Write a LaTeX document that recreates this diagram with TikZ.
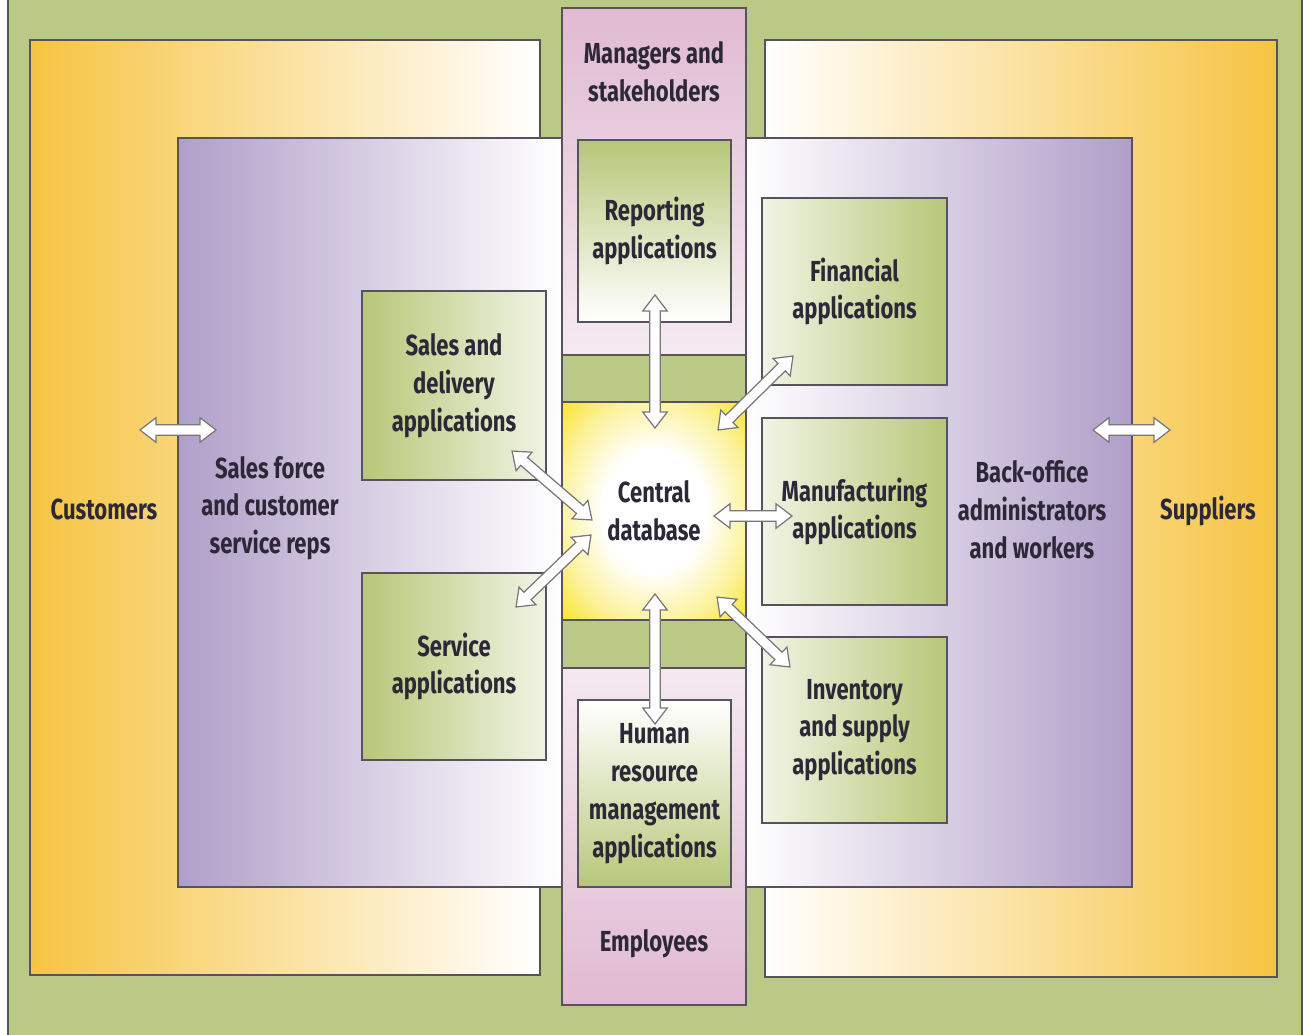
\documentclass[tikz,border=0pt]{standalone}
\usepackage{fontspec}
\setmainfont{Fira Sans}[FakeStretch=0.76]
\usepackage{tikz}
\usetikzlibrary{shapes.arrows, calc}
\definecolor{bggreen}{RGB}{187,201,135}
\definecolor{appgreen}{RGB}{183,199,120}
\definecolor{custorange}{RGB}{246,196,66}
\definecolor{staffpurple}{RGB}{176,158,200}
\definecolor{mgrpink}{RGB}{224,186,210}
\definecolor{dbyellow}{RGB}{248,226,30}
\definecolor{edgegray}{RGB}{88,82,92}
\definecolor{inkdark}{RGB}{45,40,55}
\pgfdeclareradialshading{dbglow}{\pgfpoint{0bp}{0bp}}{color(0bp)=(white); color(14bp)=(white); color(26bp)=(dbyellow!45!white); color(37bp)=(dbyellow); color(50bp)=(dbyellow)}
\newcommand{\diafont}{\fontsize{16.5}{21.5}\selectfont\bfseries}
\tikzstyle{panel} = [rectangle, draw=edgegray, line width=0.8pt, inner sep=0pt]
\tikzstyle{appbox} = [panel, text=inkdark, align=center, font=\diafont]
\tikzstyle{grouptext} = [text=inkdark, align=center, font=\diafont]
\tikzstyle{dblink} = [double arrow, draw=edgegray!80, fill=white, line width=0.7pt, inner xsep=0pt, inner ysep=2.6pt, minimum width=13.5pt, double arrow head extend=4pt, double arrow tip angle=75]

\begin{document}
\begin{tikzpicture}[x=0.02cm, y=-0.02cm]
\useasboundingbox (0,0) rectangle (1307,1034);
\node (bg) [panel, fill=bggreen, minimum width=25.88cm, minimum height=21cm] at (655,517) {};
\node (custbox) [panel, left color=custorange, right color=white, minimum width=10.2cm, minimum height=18.7cm] at (285,507.5) {};
\node (suppbox) [panel, left color=white, right color=custorange, minimum width=10.24cm, minimum height=18.74cm] at (1021,508.5) {};
\node (salesstaff) [panel, left color=staffpurple, right color=white, minimum width=7.68cm, minimum height=14.98cm] at (370,512.5) {};
\node (officestaff) [panel, left color=white, right color=staffpurple, minimum width=7.72cm, minimum height=14.98cm] at (939,512.5) {};
\node (mgrcol) [panel, top color=mgrpink, bottom color=mgrpink, middle color=white, minimum width=3.68cm, minimum height=19.94cm] at (654,506.5) {};
\node (bandtop) [panel, fill=bggreen, minimum width=3.68cm, minimum height=0.94cm] at (654,378.5) {};
\node (bandbot) [panel, fill=bggreen, minimum width=3.68cm, minimum height=0.96cm] at (654,644) {};
\node (db) [appbox, shading=dbglow, minimum width=3.68cm, minimum height=4.36cm] at (654,511) {Central\\database};

\node (reporting) [appbox, top color=appgreen, bottom color=white, minimum width=3.06cm, minimum height=3.64cm] at (654.5,231) {Reporting\\applications};
\node (hr) [appbox, top color=white, bottom color=appgreen, minimum width=3.06cm, minimum height=3.74cm] at (654.5,793.5) {Human\\resource\\management\\applications};
\node (sales) [appbox, left color=appgreen, right color=appgreen!20!white, minimum width=3.68cm, minimum height=3.78cm] at (454,385.5) {Sales and\\delivery\\applications};
\node (service) [appbox, left color=appgreen, right color=appgreen!20!white, minimum width=3.68cm, minimum height=3.74cm] at (454,666.5) {Service\\applications};
\node (financial) [appbox, left color=appgreen!20!white, right color=appgreen, minimum width=3.7cm, minimum height=3.74cm] at (854.5,291.5) {Financial\\applications};
\node (manufacturing) [appbox, left color=appgreen!20!white, right color=appgreen, minimum width=3.7cm, minimum height=3.74cm] at (854.5,511.5) {Manufacturing\\applications};
\node (inventory) [appbox, left color=appgreen!20!white, right color=appgreen, minimum width=3.7cm, minimum height=3.72cm] at (854.5,730) {Inventory\\and supply\\applications};

\node (customers) [grouptext] at (104,509) {Customers};
\node (salesforce) [grouptext] at (270,508) {Sales force\\and customer\\service reps};
\node (backoffice) [grouptext] at (1032,510) {Back-office\\administrators\\and workers};
\node (suppliers) [grouptext] at (1208,511) {Suppliers};
\node (managers) [grouptext] at (654,72) {Managers and\\stakeholders};
\node (employees) [grouptext] at (654,944) {Employees};

\coordinate (custL) at (140,430);
\coordinate (custR) at (216,430);
\coordinate (suppL) at (1093,430);
\coordinate (suppR) at (1170,430);
\coordinate (repend) at (655,295);
\coordinate (dbN) at (655,428);
\coordinate (hrend) at (655,724);
\coordinate (dbS) at (655,594);
\coordinate (finend) at (793,356);
\coordinate (dbNE) at (718,430);
\coordinate (salesend) at (512,451);
\coordinate (dbNW) at (592,520);
\coordinate (servend) at (516,607);
\coordinate (dbSW) at (591,535);
\coordinate (manend) at (792,516);
\coordinate (dbE) at (714,516);
\coordinate (invend) at (790,667);
\coordinate (dbSE) at (717,597);

\foreach \a/\b in {custL/custR, suppL/suppR, repend/dbN, dbS/hrend, dbNE/finend, salesend/dbNW, dbSW/servend, dbE/manend, dbSE/invend}
  \path let \p1=($(\b)-(\a)$), \n1={veclen(\x1,\y1)}, \n2={atan2(\y1,\x1)} in
    node [dblink, minimum height=\n1, rotate=\n2] at ($(\a)!0.5!(\b)$) {};
\end{tikzpicture}
\end{document}
